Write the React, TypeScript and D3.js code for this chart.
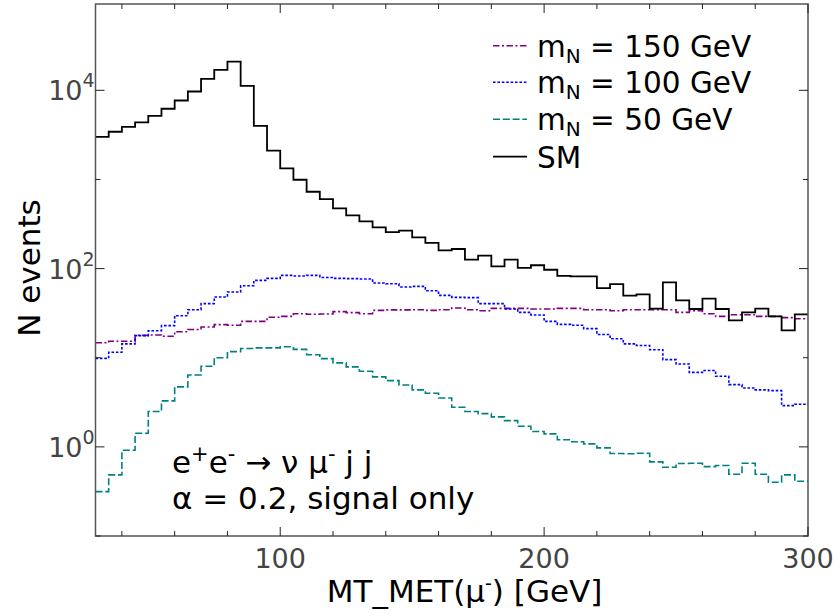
import React from 'react';
import * as d3 from 'd3';

// bin lower edges: 30..295 GeV, 5 GeV wide
const binEdges = d3.range(30, 301, 5);

const smValues = [3010, 3430, 3900, 4360, 5180, 6210, 7690, 9700, 13460, 16980, 21040, 11220, 4000, 2110, 1330, 993, 728, 603, 473, 395, 338, 290, 257, 266, 224, 194, 160, 166, 126, 140, 106, 126, 102, 109, 97, 83, 82, 82, 60.5, 67, 49.7, 51.4, 35.5, 70, 44, 35.2, 46, 35.2, 26.2, 32.3, 35.5, 29.1, 20.3, 30.7];

const mN150Values = [14.7, 15.3, 15.3, 17.8, 18.0, 17.4, 19.6, 20.7, 22.1, 23.5, 23.1, 25.6, 25.6, 28.4, 29.1, 31.2, 30.7, 31.0, 32.9, 32.1, 31.2, 34.0, 34.4, 34.4, 34.6, 34.0, 34.6, 36.1, 34.6, 33.7, 35.8, 35.8, 35.8, 35.2, 35.2, 35.8, 35.8, 34.6, 34.6, 33.7, 34.6, 34.6, 34.6, 34.6, 32.3, 33.7, 31.2, 29.1, 30.4, 30.4, 29.1, 29.1, 28.2, 27.4];

const mN100Values = [9.84, 11.5, 14.3, 17.7, 20.1, 22.9, 29.6, 34.6, 40.5, 48.1, 54.7, 64.3, 73.8, 77.6, 83.9, 82.6, 83.9, 79.4, 77.6, 77.1, 76.4, 68.9, 67.6, 62.2, 63.1, 56.5, 50.1, 47.5, 47.2, 40.5, 40.5, 35.2, 32.3, 30.2, 25.6, 23.7, 23.1, 21.2, 18.2, 16.3, 14.3, 13.7, 12.3, 9.53, 8.51, 6.85, 7.19, 6.19, 4.99, 4.58, 4.36, 4.28, 2.90, 3.01];

const mN50Values = [0.315, 0.485, 0.916, 1.42, 2.49, 3.28, 4.71, 6.41, 8.02, 10.0, 11.7, 12.7, 12.9, 12.9, 13.3, 12.4, 10.8, 9.77, 8.75, 7.89, 7.05, 6.10, 5.53, 4.95, 4.36, 3.99, 3.54, 2.78, 2.49, 2.36, 2.17, 1.97, 1.70, 1.49, 1.40, 1.20, 1.14, 1.08, 0.975, 0.841, 0.836, 0.847, 0.679, 0.590, 0.650, 0.655, 0.601, 0.617, 0.493, 0.655, 0.493, 0.401, 0.485, 0.411];

const xMajorTicks = [100, 200, 300];
const xMinorTicks = [40, 60, 80, 120, 140, 160, 180, 220, 240, 260, 280];
const yMajorTicks = [1, 100, 10000];
const yMajorExp = ['0', '2', '4'];
const yMinorTicks = [0.1, 10, 1000];

const legendLabels = ['150', '100', '50'];

const FONT = '"DejaVu Sans", sans-serif';

export default function App() {
  const W = 835, H = 616;
  const L = 95.5, R = 808, T = 4, B = 536;
  const x = d3.scaleLinear().domain([30, 300]).range([L, R]);
  const y = d3.scaleLog().domain([0.1, 93000]).range([B, T]);

  const makePath = (vals: number[]) => {
    const pts: [number, number][] = vals.map((v, i) => [binEdges[i], v]);
    pts.push([binEdges[vals.length], vals[vals.length - 1]]);
    return d3.line<[number, number]>()
      .x(d => x(d[0]))
      .y(d => y(d[1]))
      .curve(d3.curveStepAfter)(pts) || '';
  };

  const series = [
    { vals: mN150Values, color: '#800080', dash: '6.5,2.5,2,2.5', w: 1.6 },
    { vals: mN100Values, color: '#0000ff', dash: '2.6,1.8', w: 1.6 },
    { vals: mN50Values, color: '#008080', dash: '7,2.8', w: 1.6 },
    { vals: smValues, color: '#000000', dash: undefined as string | undefined, w: 1.8 },
  ];

  const legendY = [45.7, 82.3, 119.3, 156.7];

  return (
    <svg width={W} height={H} style={{ position: 'absolute', left: 0, top: 0, background: '#fff' }} fontFamily={FONT}>
      <defs>
        <clipPath id="plotclip">
          <rect x={L} y={T} width={R - L} height={B - T} />
        </clipPath>
      </defs>
      <rect x={0} y={0} width={W} height={H} fill="#fff" />
      <g clipPath="url(#plotclip)">
        {series.map((s, i) => (
          <path key={i} d={makePath(s.vals)} fill="none" stroke={s.color} strokeWidth={s.w}
            strokeDasharray={s.dash} strokeLinejoin="miter" />
        ))}
      </g>
      {/* frame */}
      <rect x={L} y={T} width={R - L} height={B - T} fill="none" stroke="#555" strokeWidth={1.5} />
      {/* x ticks */}
      {xMajorTicks.map(t => (
        <g key={'xM' + t}>
          <line x1={x(t)} x2={x(t)} y1={B} y2={B - 9} stroke="#222" strokeWidth={1} />
          <line x1={x(t)} x2={x(t)} y1={T} y2={T + 9} stroke="#222" strokeWidth={1} />
          <text x={x(t)} y={568} textAnchor="middle" fontSize={27} fill="#444">{t}</text>
        </g>
      ))}
      {xMinorTicks.map(t => (
        <g key={'xm' + t}>
          <line x1={x(t)} x2={x(t)} y1={B} y2={B - 5} stroke="#222" strokeWidth={1} />
          <line x1={x(t)} x2={x(t)} y1={T} y2={T + 5} stroke="#222" strokeWidth={1} />
        </g>
      ))}
      {/* y ticks */}
      {yMajorTicks.map((t, i) => (
        <g key={'yM' + t}>
          <line x1={L} x2={L + 9} y1={y(t)} y2={y(t)} stroke="#222" strokeWidth={1} />
          <line x1={R} x2={R - 9} y1={y(t)} y2={y(t)} stroke="#222" strokeWidth={1} />
          <text x={82.5} y={y(t) + 10} textAnchor="end" fontSize={27} fill="#444">10</text>
          <text x={82.5} y={y(t) - 3} textAnchor="start" fontSize={19} fill="#444">{yMajorExp[i]}</text>
        </g>
      ))}
      {yMinorTicks.map(t => (
        <g key={'ym' + t}>
          <line x1={L} x2={L + 5} y1={y(t)} y2={y(t)} stroke="#222" strokeWidth={1} />
          <line x1={R} x2={R - 5} y1={y(t)} y2={y(t)} stroke="#222" strokeWidth={1} />
        </g>
      ))}
      {/* axis labels */}
      <text x={464.5} y={602} textAnchor="middle" fontSize={31} fill="#000">
        MT_MET(μ<tspan fontSize={19} dy={-12}>-</tspan><tspan dy={12}>) [GeV]</tspan>
      </text>
      <text transform="translate(40,268) rotate(-90)" textAnchor="middle" fontSize={31} fill="#000">N events</text>
      {/* legend */}
      {series.map((s, i) => (
        <g key={'lg' + i}>
          <line x1={493} x2={527} y1={legendY[i]} y2={legendY[i]} stroke={s.color} strokeWidth={s.w}
            strokeDasharray={s.dash} />
          {i < 3 ? (
            <text x={537} y={legendY[i] + 11} fontSize={29.5} fill="#000">
              m<tspan fontSize={20} dy={6}>N</tspan><tspan dy={-6}> = {legendLabels[i]} GeV</tspan>
            </text>
          ) : (
            <text x={537} y={legendY[i] + 11} fontSize={29.5} fill="#000">SM</text>
          )}
        </g>
      ))}
      {/* annotation */}
      <text x={172} y={473} fontSize={31} fill="#000">
        e<tspan fontSize={21} dy={-12}>+</tspan><tspan dy={12}>e</tspan><tspan fontSize={21} dy={-12}>-</tspan><tspan dy={12}> → ν μ</tspan><tspan fontSize={21} dy={-12}>-</tspan><tspan dy={12}> j j</tspan>
      </text>
      <text x={172} y={509} fontSize={31} fill="#000">α = 0.2, signal only</text>
    </svg>
  );
}
